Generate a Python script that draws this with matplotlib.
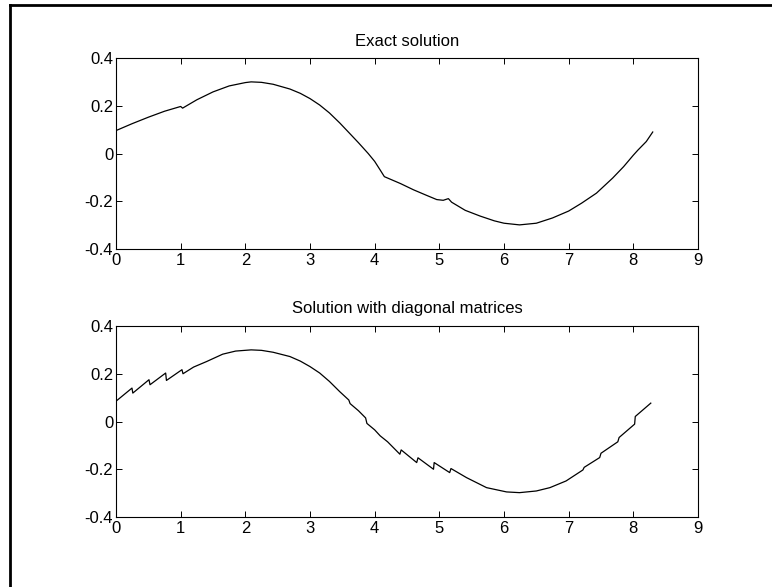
import matplotlib
matplotlib.use("Agg")
import matplotlib.pyplot as plt
from matplotlib.lines import Line2D

plt.rcParams['font.family'] = ['Liberation Sans', 'DejaVu Sans']
plt.rcParams['axes.unicode_minus'] = False

# ---- data ----
exact_x = [0.0, 0.25, 0.5, 0.75, 0.95, 1.0, 1.03, 1.08, 1.25, 1.5, 1.75, 2.0, 2.09,
           2.25, 2.43, 2.69, 2.85, 3.0, 3.15, 3.3, 3.46, 3.6, 3.75, 3.9, 4.0, 4.085,
           4.15, 4.4, 4.6, 4.8, 4.96, 5.06, 5.14, 5.19, 5.4, 5.63, 5.85, 6.0, 6.24,
           6.5, 6.75, 7.0, 7.2, 7.43, 7.68, 7.85, 8.0, 8.07, 8.2, 8.3]
exact_y = [0.096, 0.125, 0.152, 0.177, 0.193, 0.197, 0.19, 0.198, 0.225, 0.258, 0.283,
           0.297, 0.3, 0.298, 0.29, 0.27, 0.252, 0.23, 0.203, 0.17, 0.128, 0.088,
           0.045, 0.0, -0.033, -0.069, -0.097, -0.126, -0.152, -0.175, -0.193,
           -0.196, -0.189, -0.204, -0.238, -0.262, -0.282, -0.292, -0.299, -0.292,
           -0.27, -0.241, -0.208, -0.166, -0.103, -0.055, -0.007, 0.014, 0.05, 0.09]

diag_x = [0.0, 0.247, 0.26, 0.51, 0.526, 0.768, 0.78, 1.02, 1.036, 1.2, 1.4, 1.65,
          1.85, 2.09, 2.25, 2.43, 2.69, 2.85, 3.0, 3.15, 3.3, 3.46, 3.6, 3.62, 3.75,
          3.86, 3.88, 4.0, 4.085, 4.2, 4.39, 4.41, 4.65, 4.67, 4.91, 4.92, 5.16,
          5.18, 5.42, 5.73, 6.04, 6.24, 6.5, 6.71, 6.96, 7.22, 7.24, 7.48, 7.5,
          7.76, 7.78, 8.02, 8.03, 8.27]
diag_y = [0.085, 0.14, 0.119, 0.175, 0.154, 0.203, 0.172, 0.217, 0.2, 0.228, 0.251,
          0.282, 0.295, 0.3, 0.298, 0.29, 0.272, 0.253, 0.23, 0.203, 0.168, 0.125,
          0.09, 0.075, 0.045, 0.015, -0.008, -0.035, -0.06, -0.085, -0.137, -0.119,
          -0.172, -0.152, -0.2, -0.172, -0.214, -0.197, -0.235, -0.277, -0.295,
          -0.298, -0.291, -0.277, -0.249, -0.203, -0.192, -0.151, -0.133, -0.085,
          -0.067, -0.011, 0.021, 0.077]

titles = ["Exact solution", "Solution with diagonal matrices"]
xticks = [0, 1, 2, 3, 4, 5, 6, 7, 8, 9]
yticks = [-0.4, -0.2, 0, 0.2, 0.4]
ytick_labels = ["-0.4", "-0.2", "0", "0.2", "0.4"]

W, H = 772, 587
fig = plt.figure(figsize=(W / 100, H / 100), dpi=100)

def px_axes(left, top, right, bottom):
    return [left / W, 1 - bottom / H, (right - left) / W, (bottom - top) / H]

ax1 = fig.add_axes(px_axes(116, 58, 698, 249))
ax2 = fig.add_axes(px_axes(116, 326, 698, 517))

for ax, (xs, ys), title in zip([ax1, ax2], [(exact_x, exact_y), (diag_x, diag_y)], titles):
    ax.plot(xs, ys, color='black', linewidth=0.9)
    ax.set_xlim(0, 9)
    ax.set_ylim(-0.4, 0.4)
    ax.set_xticks(xticks)
    ax.set_xticklabels([str(t) for t in xticks])
    ax.set_yticks(yticks)
    ax.set_yticklabels(ytick_labels)
    ax.tick_params(direction='in', length=4.2, width=0.7, top=True, right=True,
                   labelsize=12, colors='black')
    ax.tick_params(axis='x', pad=3)
    ax.tick_params(axis='y', pad=2)
    for s in ax.spines.values():
        s.set_linewidth(0.8)
    ax.set_title(title, fontsize=12, pad=9)

# outer frame (left and top edges visible)
fig.add_artist(Line2D([10 / W, 10 / W], [0, 1 - 5 / H], transform=fig.transFigure,
                      color='black', linewidth=2))
fig.add_artist(Line2D([10 / W, 1], [1 - 5 / H, 1 - 5 / H], transform=fig.transFigure,
                      color='black', linewidth=2))

fig.savefig("out.png", dpi=100)
